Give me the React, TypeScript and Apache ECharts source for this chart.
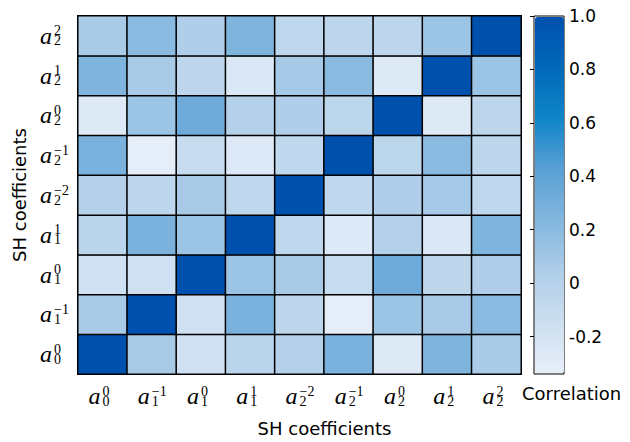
import React, { useEffect, useRef } from "react";
import * as echarts from "echarts";

// Spherical-harmonic coefficient degree (l) and order (m), in axis order
const degrees = [0, 1, 1, 1, 2, 2, 2, 2, 2];
const orders = [0, -1, 0, 1, -2, -1, 0, 1, 2];

// Correlation matrix rows (row index = y category from bottom, column = x category)
const rowA00 = [1, 0.07, -0.16, -0.03, 0.0, 0.27, -0.28, 0.25, 0.06];
const rowA1m1 = [0.07, 1, -0.16, 0.27, -0.05, -0.33, 0.12, 0.07, 0.2];
const rowA10 = [-0.16, -0.16, 1, 0.12, 0.07, -0.12, 0.33, -0.05, 0.03];
const rowA11 = [-0.03, 0.27, 0.12, 1, -0.06, -0.27, 0.0, -0.25, 0.25];
const rowA2m2 = [0.0, -0.05, 0.07, -0.06, 1, -0.07, 0.03, 0.08, -0.06];
const rowA2m1 = [0.27, -0.33, -0.12, -0.27, -0.07, 1, -0.04, 0.2, -0.05];
const rowA20 = [-0.28, 0.12, 0.33, 0.0, 0.03, -0.04, 1, -0.28, -0.05];
const rowA21 = [0.25, 0.07, -0.05, -0.25, 0.08, 0.2, -0.28, 1, 0.12];
const rowA22 = [0.06, 0.2, 0.03, 0.25, -0.06, -0.05, -0.05, 0.12, 1];
const correlation = [rowA00, rowA1m1, rowA10, rowA11, rowA2m2, rowA2m1, rowA20, rowA21, rowA22];

const colorbarTicks = [-0.2, 0, 0.2, 0.4, 0.6, 0.8, 1.0];
const scaleMin = -0.34;
const scaleMax = 1.0;
const palette = ["#e6eef9", "#cddff0", "#aecde8", "#82b6de", "#5aa0d6", "#1085c8", "#0069b9", "#0051ae"];

const categories = degrees.map((l, i) => `a_${l}^${orders[i]}`);

const coeffLabel = (_v: string, index: number) => {
  const m = orders[index];
  const mText = m < 0 ? "\u2212" + -m : String(m);
  return `{a|a}{sub|${degrees[index]}}{sup|${mText}}`;
};

const richStyles = {
  a: { fontFamily: "Liberation Serif", fontStyle: "italic", fontSize: 24, lineHeight: 24, align: "left", color: "#000", padding: [0, 2, 0, 0] },
  sub: { fontFamily: "Liberation Serif", fontSize: 14, lineHeight: 12, width: 0, align: "left", verticalAlign: "bottom", color: "#000" },
  sup: { fontFamily: "Liberation Serif", fontSize: 14, lineHeight: 12, align: "left", verticalAlign: "top", color: "#000" },
};

export default function App() {
  const ref = useRef<HTMLDivElement>(null);
  useEffect(() => {
    if (!ref.current) return;
    const chart = echarts.init(ref.current, null, { renderer: "svg" });
    const data: number[][] = [];
    correlation.forEach((row, y) => row.forEach((v, x) => data.push([x, y, v])));
    const sans = "DejaVu Sans";
    chart.setOption({
      animation: false,
      backgroundColor: "#fff",
      grid: [
        { left: 78, top: 16, width: 443, height: 358, outerBoundsMode: "none" },
        { left: 534, top: 16, width: 30, height: 358, show: true, borderColor: "#000", borderWidth: 1, backgroundColor: "transparent", outerBoundsMode: "none" },
      ],
      xAxis: [
        {
          type: "category",
          gridIndex: 0,
          data: categories,
          axisLine: { show: false },
          axisTick: { show: false },
          axisLabel: { formatter: coeffLabel, rich: richStyles, margin: 10, width: 28, align: "center", interval: 0 },
          name: "SH coefficients",
          nameLocation: "middle",
          nameGap: 45,
          nameTextStyle: { fontFamily: sans, fontSize: 18, color: "#000", padding: [0, 0, 0, 50] },
        },
        { type: "value", gridIndex: 1, min: 0, max: 1, show: false },
      ],
      yAxis: [
        {
          type: "category",
          gridIndex: 0,
          data: categories,
          axisLine: { show: false },
          axisTick: { show: false },
          axisLabel: { formatter: coeffLabel, rich: richStyles, margin: 38, align: "left", interval: 0 },
          name: "SH coefficients",
          nameLocation: "middle",
          nameGap: 50,
          nameTextStyle: { fontFamily: sans, fontSize: 18, color: "#000" },
        },
        {
          type: "value",
          gridIndex: 1,
          min: scaleMin,
          max: scaleMax,
          position: "right",
          axisLine: { show: false },
          splitLine: { show: false },
          axisTick: { show: true, inside: true, length: 4, lineStyle: { color: "#000" }, customValues: colorbarTicks },
          axisLabel: {
            customValues: colorbarTicks,
            margin: 5,
            fontFamily: sans,
            fontSize: 17,
            color: "#000",
            formatter: (v: number) => (Math.abs(v) < 1e-9 ? "0" : v.toFixed(1)),
          },
        },
      ],
      visualMap: {
        type: "continuous",
        seriesIndex: 0,
        min: scaleMin,
        max: scaleMax,
        calculable: false,
        orient: "vertical",
        left: 535,
        top: 17,
        itemWidth: 29,
        itemHeight: 356,
        padding: 0,
        inRange: { color: palette },
      },
      graphic: [
        { type: "text", left: 522, top: 384, style: { text: "Correlation", fontFamily: sans, fontSize: 18, fill: "#000" } },
      ],
      series: [
        {
          type: "heatmap",
          xAxisIndex: 0,
          yAxisIndex: 0,
          data,
          itemStyle: { borderColor: "#000", borderWidth: 1.5 },
          emphasis: { disabled: true },
        },
      ],
    });
    return () => chart.dispose();
  }, []);
  return <div ref={ref} style={{ position: "fixed", left: 0, top: 0, width: 630, height: 442 }} />;
}
